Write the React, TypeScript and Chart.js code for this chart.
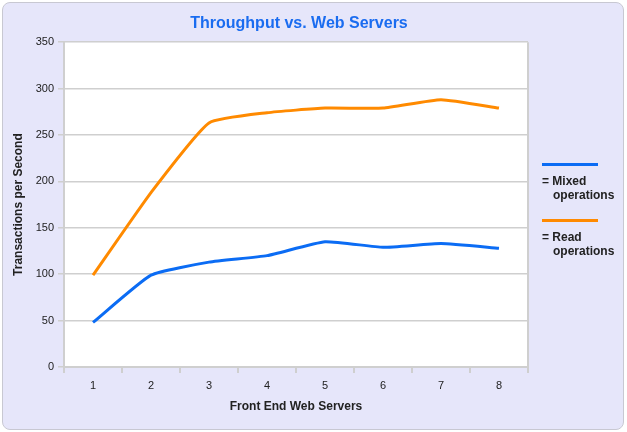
import React, { useEffect, useRef } from "react";
import { Chart, registerables } from "chart.js";

Chart.register(...registerables);

const categories = ["1", "2", "3", "4", "5", "6", "7", "8"];
const mixedOps = [48, 99, 113, 120, 135, 129, 133, 128];
const readOps = [99, 188, 263, 274, 279, 279, 288, 279];
const seriesLabels = ["Mixed", "Read"];
const seriesColors = ["#0b6cf4", "#ff8a00"];
const yMin = 0;
const yMax = 350;
const yStep = 50;

const FONT = "'Liberation Sans', Arial, Helvetica, sans-serif";

const plotFrame = {
  id: "plotFrame",
  beforeDraw(chart: any) {
    const { ctx, chartArea: a } = chart;
    ctx.save();
    ctx.fillStyle = "#ffffff";
    ctx.fillRect(a.left, a.top, a.right - a.left, a.bottom - a.top);
    ctx.strokeStyle = "#cfcfcf";
    ctx.lineWidth = 2;
    ctx.beginPath();
    ctx.moveTo(a.right, a.top);
    ctx.lineTo(a.right, a.bottom + 6);
    ctx.stroke();
    ctx.restore();
  },
};

export default function App() {
  const ref = useRef<HTMLCanvasElement | null>(null);

  useEffect(() => {
    document.body.style.margin = "0";
    const c = ref.current;
    if (!c) return;
    const chart = new Chart(c, {
      type: "line",
      data: {
        labels: categories,
        datasets: [
          {
            label: seriesLabels[0] + " operations",
            data: mixedOps,
            borderColor: seriesColors[0],
            borderWidth: 3,
            pointRadius: 0,
            tension: 0.15,
            fill: false,
          },
          {
            label: seriesLabels[1] + " operations",
            data: readOps,
            borderColor: seriesColors[1],
            borderWidth: 3,
            pointRadius: 0,
            tension: 0.15,
            fill: false,
          },
        ],
      },
      options: {
        animation: false,
        responsive: false,
        maintainAspectRatio: false,
        layout: { padding: 0 },
        plugins: {
          legend: { display: false },
          tooltip: { enabled: false },
          title: {
            display: true,
            text: "Throughput vs. Web Servers",
            color: "#1a6cf0",
            font: { family: FONT, size: 16, weight: "bold" },
            padding: { top: 14, bottom: 9 },
          },
        },
        scales: {
          x: {
            type: "category",
            offset: true,
            grid: {
              offset: true,
              drawOnChartArea: false,
              drawTicks: true,
              tickLength: 6,
              color: "#cfcfcf",
              lineWidth: 2,
            },
            border: { color: "#cfcfcf", width: 2 },
            ticks: {
              color: "#222",
              font: { family: FONT, size: 11 },
              padding: 6,
              maxRotation: 0,
            },
            title: {
              display: true,
              text: "Front End Web Servers",
              color: "#222",
              font: { family: FONT, size: 12, weight: "bold" },
              padding: { top: 0, bottom: 18 },
            },
            afterFit(scale: any) {
              scale.height = 65;
            },
          },
          y: {
            min: yMin,
            max: yMax,
            ticks: {
              stepSize: yStep,
              color: "#222",
              font: { family: FONT, size: 11 },
              padding: 4,
            },
            grid: {
              color: "#cfcfcf",
              lineWidth: 1.5,
              tickLength: 6,
            },
            border: { color: "#cfcfcf", width: 2 },
            title: {
              display: true,
              text: "Transactions per Second",
              color: "#222",
              font: { family: FONT, size: 12, weight: "bold" },
              padding: { top: 11, bottom: 0 },
            },
            afterFit(scale: any) {
              scale.width = 64;
            },
          },
          yRight: {
            position: "right",
            min: yMin,
            max: yMax,
            display: true,
            ticks: { display: false },
            grid: { display: false, drawOnChartArea: false },
            border: { display: false },
            afterFit(scale: any) {
              scale.width = 70;
            },
          },
        },
      },
      plugins: [plotFrame],
    });
    return () => chart.destroy();
  }, []);

  const legendTops = [164, 220];

  return (
    <div
      style={{
        position: "fixed",
        left: 0,
        top: 0,
        width: 627,
        height: 432,
        overflow: "hidden",
        fontFamily: FONT,
      }}
    >
      <div
        style={{
          position: "absolute",
          left: 2,
          top: 2,
          width: 620,
          height: 426,
          background: "#e6e6fa",
          border: "1px solid #c8c8d2",
          borderRadius: 8,
        }}
      />
      <canvas
        ref={ref}
        width={598}
        height={432}
        style={{ position: "absolute", left: 0, top: 0, width: 598, height: 432 }}
      />
      {seriesLabels.map((lab, i) => (
        <div
          key={lab}
          style={{ position: "absolute", left: 542, top: legendTops[i] - 1, width: 85 }}
        >
          <div style={{ width: 56, height: 3, background: seriesColors[i] }} />
          <div
            style={{
              fontSize: 12,
              fontWeight: "bold",
              color: "#222",
              lineHeight: "14px",
              marginTop: 8,
            }}
          >
            = {lab}
            <br />
            <span style={{ paddingLeft: 11 }}>operations</span>
          </div>
        </div>
      ))}
    </div>
  );
}
